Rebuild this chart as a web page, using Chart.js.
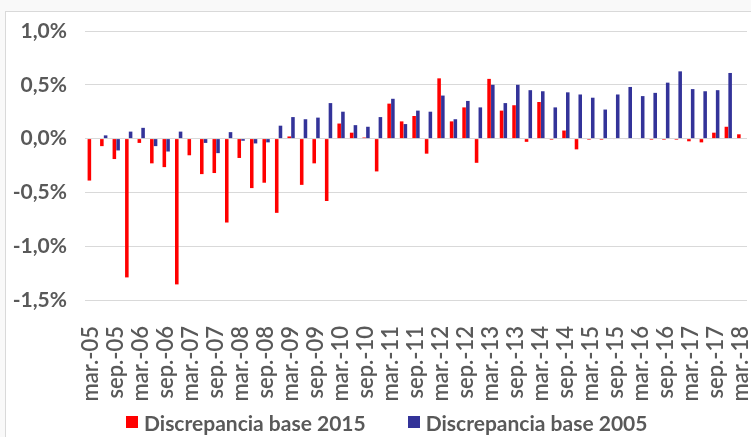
<!DOCTYPE html>
<html>
<head>
<meta charset="utf-8">
<script src="https://cdn.jsdelivr.net/npm/chart.js@4.4.0/dist/chart.umd.min.js"></script>
<style>
  html, body { margin: 0; padding: 0; background: #fff; }
  #wrap { position: relative; width: 751px; height: 437px; overflow: hidden; background: #f9f9f9; }
  #frame { position: absolute; left: 5px; top: 11px; width: 760px; height: 440px; background: #fff;
           border-left: 1px solid #d9d9d9; border-top: 1px solid #d9d9d9; }
  #chartBox { position: absolute; left: 0; top: 0; width: 751px; height: 437px; }
  #leyenda { position: absolute; left: 126px; top: 409px; height: 26px; display: flex; align-items: center;
             font-family: Lato, sans-serif; font-weight: bold; font-size: 21px; color: #595959; white-space: nowrap; }
  #leyenda .item { display: flex; align-items: center; margin-right: 42px; }
  #leyenda .caja { width: 12px; height: 12px; margin-right: 6px; }
</style>
</head>
<body>
<div id="wrap">
  <div id="frame"></div>
  <div id="chartBox"><canvas id="discChart"></canvas></div>
  <div id="leyenda"></div>
</div>
<script>
// trimestres mar.-05 .. mar.-18
const categorias = [
  'mar.-05','jun.-05','sep.-05','dic.-05',
  'mar.-06','jun.-06','sep.-06','dic.-06',
  'mar.-07','jun.-07','sep.-07','dic.-07',
  'mar.-08','jun.-08','sep.-08','dic.-08',
  'mar.-09','jun.-09','sep.-09','dic.-09',
  'mar.-10','jun.-10','sep.-10','dic.-10',
  'mar.-11','jun.-11','sep.-11','dic.-11',
  'mar.-12','jun.-12','sep.-12','dic.-12',
  'mar.-13','jun.-13','sep.-13','dic.-13',
  'mar.-14','jun.-14','sep.-14','dic.-14',
  'mar.-15','jun.-15','sep.-15','dic.-15',
  'mar.-16','jun.-16','sep.-16','dic.-16',
  'mar.-17','jun.-17','sep.-17','dic.-17',
  'mar.-18'
];

// Discrepancia base 2015 (%)
const base2015 = [
  -0.39, -0.07, -0.19, -1.29,
  -0.04, -0.23, -0.265, -1.355,
  -0.155, -0.33, -0.32, -0.78,
  -0.18, -0.46, -0.41, -0.69,
  0.02, -0.43, -0.23, -0.58,
  0.14, 0.055, 0.01, -0.305,
  0.325, 0.16, 0.21, -0.14,
  0.56, 0.16, 0.29, -0.225,
  0.555, 0.26, 0.31, -0.03,
  0.34, -0.01, 0.075, -0.10,
  -0.01, -0.01, -0.005, -0.005,
  -0.005, -0.01, -0.01, -0.01,
  -0.025, -0.035, 0.055, 0.11,
  0.04
];

// Discrepancia base 2005 (%)
const base2005 = [
  0, 0.03, -0.11, 0.065,
  0.10, -0.07, -0.12, 0.065,
  0, -0.04, -0.135, 0.06,
  -0.02, -0.045, -0.035, 0.12,
  0.20, 0.18, 0.195, 0.33,
  0.25, 0.125, 0.11, 0.20,
  0.37, 0.135, 0.26, 0.25,
  0.40, 0.18, 0.35, 0.29,
  0.50, 0.33, 0.50, 0.45,
  0.44, 0.29, 0.43, 0.41,
  0.38, 0.27, 0.41, 0.48,
  0.395, 0.425, 0.52, 0.625,
  0.46, 0.44, 0.45, 0.61,
  null
];

const yMin = -1.5, yMax = 1.0, yStep = 0.5;

const gris = '#595959';

const ctx = document.getElementById('discChart').getContext('2d');
const chart = new Chart(ctx, {
  type: 'bar',
  data: {
    labels: categorias,
    datasets: [
      {
        label: 'Discrepancia base 2015',
        data: base2015,
        backgroundColor: '#ff0000',
        categoryPercentage: 0.6,
        barPercentage: 0.95
      },
      {
        label: 'Discrepancia base 2005',
        data: base2005,
        backgroundColor: '#333399',
        categoryPercentage: 0.6,
        barPercentage: 0.95
      }
    ]
  },
  options: {
    responsive: true,
    maintainAspectRatio: false,
    animation: false,
    layout: { padding: { left: 5, right: 4, top: 31, bottom: 28 } },
    plugins: {
      tooltip: { enabled: false },
      legend: { display: false }
    },
    scales: {
      x: {
        grid: { display: false },
        border: { display: false },
        ticks: {
          autoSkip: false,
          minRotation: 90,
          maxRotation: 90,
          padding: 18,
          color: gris,
          font: { family: 'Lato', size: 22, weight: '600' },
          callback: function (v, i) { return i % 2 === 0 ? categorias[i] : ''; }
        },
        afterFit: function (s) { s.height = 109; s.paddingLeft = 0; s.paddingRight = 0; }
      },
      y: {
        min: yMin,
        max: yMax,
        grid: { color: '#d9d9d9', lineWidth: 1, drawTicks: false },
        border: { display: false },
        ticks: {
          stepSize: yStep,
          padding: 18,
          color: gris,
          font: { family: 'Lato', size: 21, weight: 'bold' },
          callback: function (v) { return v.toFixed(1).replace('.', ',') + '%'; }
        },
        afterFit: function (s) { s.width = 80; }
      }
    }
  }
});

// leyenda
const leyenda = document.getElementById('leyenda');
chart.data.datasets.forEach(function (ds) {
  const item = document.createElement('div');
  item.className = 'item';
  const caja = document.createElement('span');
  caja.className = 'caja';
  caja.style.background = ds.backgroundColor;
  const txt = document.createElement('span');
  txt.textContent = ds.label;
  item.appendChild(caja);
  item.appendChild(txt);
  leyenda.appendChild(item);
});
</script>
</body>
</html>
